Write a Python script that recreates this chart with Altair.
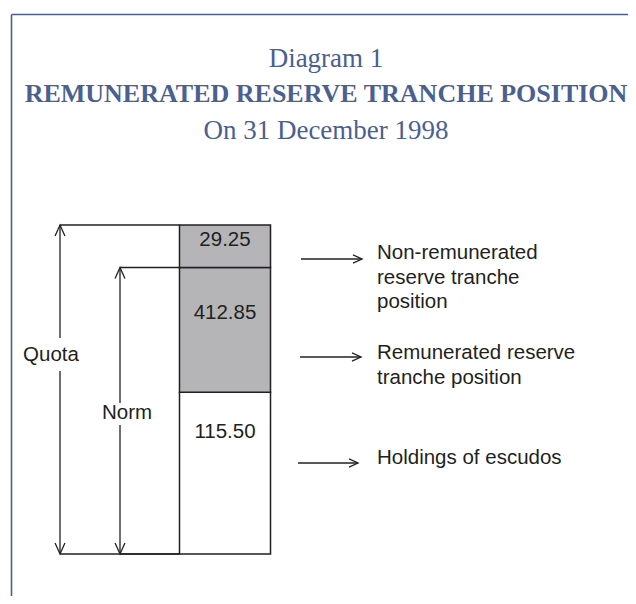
import altair as alt
import pandas as pd

# ---------------- data ----------------
segments = ["Holdings of escudos",
            "Remunerated reserve tranche position",
            "Non-remunerated reserve tranche position"]
values = [115.50, 412.85, 29.25]              # bottom -> top
value_labels = ["115.50", "412.85", "29.25"]
seg_fill = ["#ffffff", "#b5b5b8", "#b5b5b8"]
measures = ["Quota", "Norm"]
title_lines = ["Diagram 1", "REMUNERATED RESERVE TRANCHE POSITION", "On 31 December 1998"]
legend_lines = [["Non-remunerated", "reserve tranche", "position"],
                ["Remunerated reserve", "tranche position"],
                ["Holdings of escudos"]]

# stacked bounds derived from the values
bounds = [0.0]
for v in values:
    bounds.append(round(bounds[-1] + v, 2))
quota = bounds[3]
norm = bounds[2]

# ---------------- layout (plot pixels) ----------------
W, H = 620, 588
INK = "#231f20"
BLUE = "#4a6090"
FONT = "Liberation Sans"
SERIF = "Liberation Serif"
FS = 20.5
y_range = [546, 384.3, 259.5, 217]           # schematic piecewise scale
bar_x0, bar_x1 = 171.5, 262.5
label_x = 217
label_dy = [40, 45, 15]                      # below the top of each segment
measure_x = [52, 112]
measure_label_xy = [(43, 347), (119, 405)]
measure_gap = [(330, 363), (395, 417)]
arrow_y = [251, 349, 455]
arrow_x = [(293, 354), (292, 353), (290, 350)]
legend_x = 369
legend_y = [[245, 269.5, 294], [345, 369.5], [450]]
title_y = [59, 94, 131]
title_size = [27, 26, 27]
title_weight = ["normal", "bold", "normal"]
title_x = 318

yscale = alt.Scale(domain=bounds, range=y_range, zero=False, nice=False)

df_bar = pd.DataFrame({
    "segment": segments,
    "value": values,
    "label": value_labels,
    "start": bounds[:-1],
    "end": bounds[1:],
    "fill": seg_fill,
})

df_meas = pd.DataFrame({
    "measure": measures,
    "lo": [0.0, 0.0],
    "hi": [quota, norm],
    "xpx": measure_x,
})

layers = []

# frame
layers.append(alt.Chart().mark_rule(color=BLUE, strokeWidth=1.6).encode(
    x=alt.value(3.5), x2=alt.value(3.5), y=alt.value(6.5), y2=alt.value(H)))
layers.append(alt.Chart().mark_rule(color=BLUE, strokeWidth=1.6).encode(
    x=alt.value(3.5), x2=alt.value(W), y=alt.value(6.5), y2=alt.value(6.5)))

# title lines
for t, yy, fs, fw in zip(title_lines, title_y, title_size, title_weight):
    layers.append(alt.Chart().mark_text(
        text=t, font=SERIF, fontSize=fs, fontWeight=fw, color=BLUE,
        align="center", baseline="alphabetic").encode(
        x=alt.value(title_x), y=alt.value(yy)))

# stacked bar
layers.append(alt.Chart(df_bar).mark_rect(stroke=INK, strokeWidth=1.5).encode(
    x=alt.value(bar_x0), x2=alt.value(bar_x1),
    y=alt.Y("start:Q", scale=yscale, axis=None), y2="end:Q",
    fill=alt.Fill("fill:N", scale=None)))

for seg, dy in zip(segments, label_dy):
    layers.append(alt.Chart(df_bar).transform_filter(
        alt.datum.segment == seg).mark_text(
        font=FONT, fontSize=FS, color=INK, align="center", baseline="middle", dy=dy).encode(
        x=alt.value(label_x),
        y=alt.Y("end:Q", scale=yscale, axis=None),
        text="label:N"))

# quota / norm measuring arrows
layers.append(alt.Chart(df_meas).mark_rule(color=INK, strokeWidth=1.3).encode(
    x=alt.X("xpx:Q", scale=None, axis=None),
    y=alt.Y("lo:Q", scale=yscale, axis=None), y2="hi:Q"))
layers.append(alt.Chart(df_meas).mark_rule(color=INK, strokeWidth=1.3).encode(
    x=alt.X("xpx:Q", scale=None, axis=None), x2=alt.value(bar_x0),
    y=alt.Y("hi:Q", scale=yscale, axis=None)))
layers.append(alt.Chart(df_meas).mark_rule(color=INK, strokeWidth=1.3).encode(
    x=alt.X("xpx:Q", scale=None, axis=None), x2=alt.value(bar_x0),
    y=alt.Y("lo:Q", scale=yscale, axis=None)))
layers.append(alt.Chart(df_meas).mark_point(
    shape="M-0.45,1L0,0L0.45,1", size=484, filled=False, color=INK,
    strokeWidth=1.3, opacity=1).encode(
    x=alt.X("xpx:Q", scale=None, axis=None),
    y=alt.Y("hi:Q", scale=yscale, axis=None)))
layers.append(alt.Chart(df_meas).mark_point(
    shape="M-0.45,-1L0,0L0.45,-1", size=484, filled=False, color=INK,
    strokeWidth=1.3, opacity=1).encode(
    x=alt.X("xpx:Q", scale=None, axis=None),
    y=alt.Y("lo:Q", scale=yscale, axis=None)))

for m, xpx, (lx, ly), (g0, g1) in zip(measures, measure_x, measure_label_xy, measure_gap):
    layers.append(alt.Chart().mark_rect(fill="white").encode(
        x=alt.value(xpx - 4), x2=alt.value(xpx + 4), y=alt.value(g0), y2=alt.value(g1)))
    layers.append(alt.Chart().mark_text(
        text=m, font=FONT, fontSize=FS, color=INK, align="center", baseline="middle").encode(
        x=alt.value(lx), y=alt.value(ly)))

# right-hand pointer arrows and their labels
for (x0, x1), ay, lines, ys in zip(arrow_x, arrow_y, legend_lines, legend_y):
    layers.append(alt.Chart().mark_rule(color=INK, strokeWidth=1.3).encode(
        x=alt.value(x0), x2=alt.value(x1), y=alt.value(ay), y2=alt.value(ay)))
    layers.append(alt.Chart().mark_point(
        shape="M-1,-0.45L0,0L-1,0.45", size=324, filled=False, color=INK,
        strokeWidth=1.3, opacity=1).encode(x=alt.value(x1), y=alt.value(ay)))
    for line, ly in zip(lines, ys):
        layers.append(alt.Chart().mark_text(
            text=line, font=FONT, fontSize=FS, color=INK, align="left", baseline="middle").encode(
            x=alt.value(legend_x), y=alt.value(ly)))

chart = alt.layer(*layers).properties(
    width=W, height=H,
    autosize=alt.AutoSizeParams(type="none"),
    padding=0,
    background="white",
).configure_view(stroke=None)

chart.save("out.html", embed_options={"renderer": "svg", "actions": False})
